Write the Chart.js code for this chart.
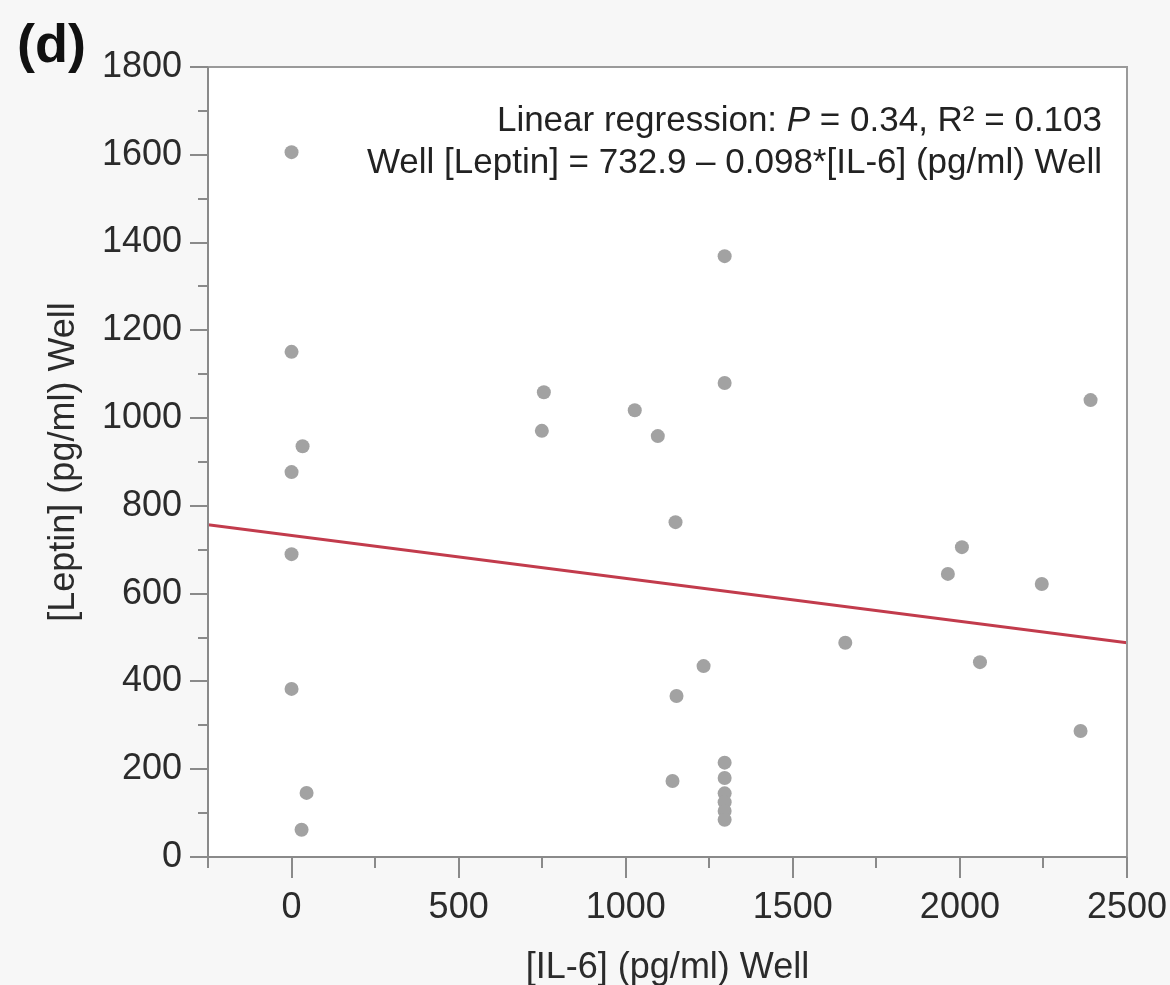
<!DOCTYPE html>
<html>
<head>
<meta charset="utf-8">
<title>Leptin vs IL-6</title>
<script src="https://cdn.jsdelivr.net/npm/chart.js@4.4.1/dist/chart.umd.min.js"></script>
<style>
  html, body { margin: 0; padding: 0; background: #f7f7f7; }
  #wrap { width: 1170px; height: 985px; }
</style>
</head>
<body>
<div id="wrap"><canvas id="scatter" width="1170" height="985"></canvas></div>
<script>
// IL-6 (x) and leptin (y)
const il6 = [0, 0, 33, 0, 0, 0, 45, 30,
             755, 749, 1027, 1096, 1149, 1296, 1296, 1233, 1152, 1140,
             1296, 1296, 1296, 1296, 1296, 1296,
             1657, 2006, 1964, 2060, 2245, 2361, 2391];
const leptin = [1606, 1151, 936, 877, 690, 383, 146, 62,
                1059, 971, 1018, 959, 763, 1369, 1080, 435, 367, 173,
                215, 180, 145, 125, 105, 85,
                488, 706, 645, 444, 622, 287, 1041];

// regression line end points
const fitX = [-250, 2500];
const fitY = [757, 488];

const xTickLabels = [0, 500, 1000, 1500, 2000, 2500];
const yTickLabels = [0, 200, 400, 600, 800, 1000, 1200, 1400, 1600, 1800];

const panelLabel = '(d)';
const statsLine1 = ['Linear regression: ', 'P', ' = 0.34, R\u00b2 = 0.103'];
const statsLine2 = 'Well [Leptin] = 732.9 \u2013 0.098*[IL-6] (pg/ml) Well';

const textFont = "'Liberation Sans', Arial, sans-serif";

// white plot area, frame, major/minor tick marks, panel letter and stats text
const decor = {
  id: 'decor',
  beforeDraw(chart) {
    const ctx = chart.ctx;
    const a = chart.chartArea;
    ctx.save();
    ctx.fillStyle = '#f7f7f7';
    ctx.fillRect(0, 0, chart.width, chart.height);
    ctx.fillStyle = '#ffffff';
    ctx.fillRect(a.left, a.top, a.right - a.left, a.bottom - a.top);
    ctx.restore();
  },
  afterDraw(chart) {
    const ctx = chart.ctx;
    const a = chart.chartArea;
    const xs = chart.scales.x;
    const ys = chart.scales.y;
    ctx.save();
    ctx.strokeStyle = '#9a9a9a';
    ctx.lineWidth = 2;
    ctx.beginPath();
    ctx.moveTo(a.left, a.top);
    ctx.lineTo(a.right, a.top);
    ctx.lineTo(a.right, a.bottom);
    ctx.stroke();
    ctx.strokeStyle = '#8a8a8a';
    ctx.beginPath();
    ctx.moveTo(a.left, a.top);
    ctx.lineTo(a.left, a.bottom);
    ctx.lineTo(a.right, a.bottom);
    ctx.stroke();

    ctx.beginPath();
    xs.ticks.forEach(t => {
      const px = Math.round(xs.getPixelForValue(t.value));
      const len = xTickLabels.includes(t.value) ? 21 : 11;
      ctx.moveTo(px, a.bottom);
      ctx.lineTo(px, a.bottom + len);
    });
    ys.ticks.forEach(t => {
      const py = Math.round(ys.getPixelForValue(t.value));
      const len = yTickLabels.includes(t.value) ? 18 : 10;
      ctx.moveTo(a.left, py);
      ctx.lineTo(a.left - len, py);
    });
    ctx.stroke();

    ctx.fillStyle = '#111';
    ctx.font = "bold 54px " + textFont;
    ctx.textBaseline = 'alphabetic';
    ctx.textAlign = 'left';
    ctx.fillText(panelLabel, 17, 62);

    // stats, right aligned
    const right = 1102;
    ctx.fillStyle = '#222';
    const fonts = ["35px " + textFont, "italic 35px " + textFont, "35px " + textFont];
    let widths = statsLine1.map((s, i) => { ctx.font = fonts[i]; return ctx.measureText(s).width; });
    let x = right - widths.reduce((p, c) => p + c, 0);
    statsLine1.forEach((s, i) => {
      ctx.font = fonts[i];
      ctx.fillText(s, x, 131);
      x += widths[i];
    });
    ctx.font = fonts[0];
    ctx.textAlign = 'right';
    ctx.fillText(statsLine2, right, 173);
    ctx.restore();
  }
};

const ctx = document.getElementById('scatter');
new Chart(ctx, {
  type: 'scatter',
  data: {
    datasets: [
      {
        label: 'fit',
        type: 'line',
        data: fitX.map((v, i) => ({ x: v, y: fitY[i] })),
        borderColor: '#c23b4c',
        borderWidth: 3,
        pointRadius: 0,
        fill: false,
        order: 0
      },
      {
        label: 'wells',
        data: il6.map((v, i) => ({ x: v, y: leptin[i] })),
        backgroundColor: '#a2a2a2',
        borderWidth: 0,
        pointRadius: 7,
        order: 1
      }
    ]
  },
  options: {
    responsive: false,
    devicePixelRatio: 1,
    animation: false,
    layout: { padding: { top: 67, right: 43, left: 0, bottom: 0 } },
    plugins: {
      legend: { display: false },
      tooltip: { enabled: false }
    },
    scales: {
      x: {
        type: 'linear',
        min: -250,
        max: 2500,
        afterFit: s => { s.height = 128; s.paddingLeft = 0; s.paddingRight = 0; },
        grid: { display: false, drawTicks: false },
        border: { display: false },
        ticks: {
          stepSize: 250,
          autoSkip: false,
          maxRotation: 0,
          padding: 29,
          color: '#2b2b2b',
          font: { family: textFont, size: 36 },
          callback: v => xTickLabels.includes(v) ? String(v) : ''
        },
        title: {
          display: true,
          text: '[IL-6] (pg/ml) Well',
          color: '#2b2b2b',
          font: { family: textFont, size: 36, lineHeight: 0.8 },
          padding: { top: 0, bottom: 3 }
        }
      },
      y: {
        type: 'linear',
        min: 0,
        max: 1800,
        afterFit: s => { s.width = 208; s.paddingTop = 0; s.paddingBottom = 0; },
        grid: { display: false, drawTicks: false },
        border: { display: false },
        ticks: {
          stepSize: 100,
          autoSkip: false,
          padding: 26,
          color: '#2b2b2b',
          font: { family: textFont, size: 36 },
          callback: v => yTickLabels.includes(v) ? String(v) : ''
        },
        title: {
          display: true,
          text: '[Leptin] (pg/ml) Well',
          color: '#2b2b2b',
          font: { family: textFont, size: 36, lineHeight: 1.2 },
          padding: { top: 42, bottom: 0 }
        }
      }
    }
  },
  plugins: [decor]
});
</script>
</body>
</html>
